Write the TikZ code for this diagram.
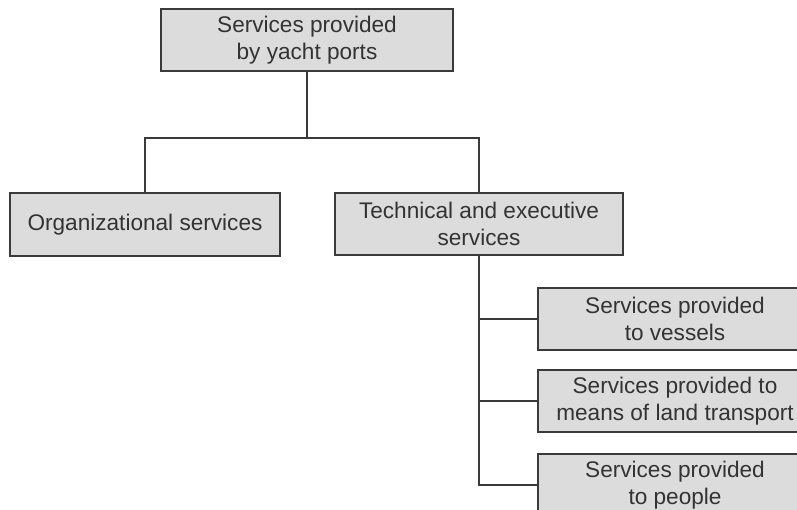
\documentclass[tikz,border=0pt]{standalone}
\usepackage{fontspec}
\setmainfont{Liberation Sans}
\definecolor{boxfill}{HTML}{DCDCDC}
\definecolor{boxline}{HTML}{3A3A3A}
\definecolor{txt}{HTML}{333333}
\begin{document}
\begin{tikzpicture}[x=1pt,y=-1pt,
  box/.style={draw=boxline,fill=boxfill,line width=2pt,text=txt,align=center,
    inner sep=0pt,font=\fontsize{22.6}{27.5}\selectfont},
  conn/.style={draw=boxline,line width=2pt}]
\useasboundingbox (0,0) rectangle (797,510);
\clip (0,0) rectangle (797,510);
\node[box,minimum width=292pt,minimum height=62pt] (top) at (307,40) {Services provided\\by yacht ports};
\node[box,minimum width=270pt,minimum height=63pt] (org) at (145,224.5) {Organizational services};
\node[box,minimum width=288pt,minimum height=62pt] (tech) at (479,224) {Technical and executive\\services};
\node[box,minimum width=274pt,minimum height=61pt] (r1) at (675,319) {Services provided\\to vessels};
\node[box,minimum width=274pt,minimum height=62pt] (r2) at (675,401) {Services provided to\\means of land transport};
\node[box,minimum width=274pt,minimum height=62pt] (r3) at (675,485) {Services provided\\to people};
\coordinate (j) at (307,138);
\draw[conn] (top.south) -- (j);
\draw[conn] (org.north) |- (j) -| (tech.north);
\draw[conn] (tech.south) -- (tech.south |- r3.west) -- (r3.west);
\draw[conn] (tech.south |- r1.west) -- (r1.west);
\draw[conn] (tech.south |- r2.west) -- (r2.west);
\end{tikzpicture}
\end{document}
